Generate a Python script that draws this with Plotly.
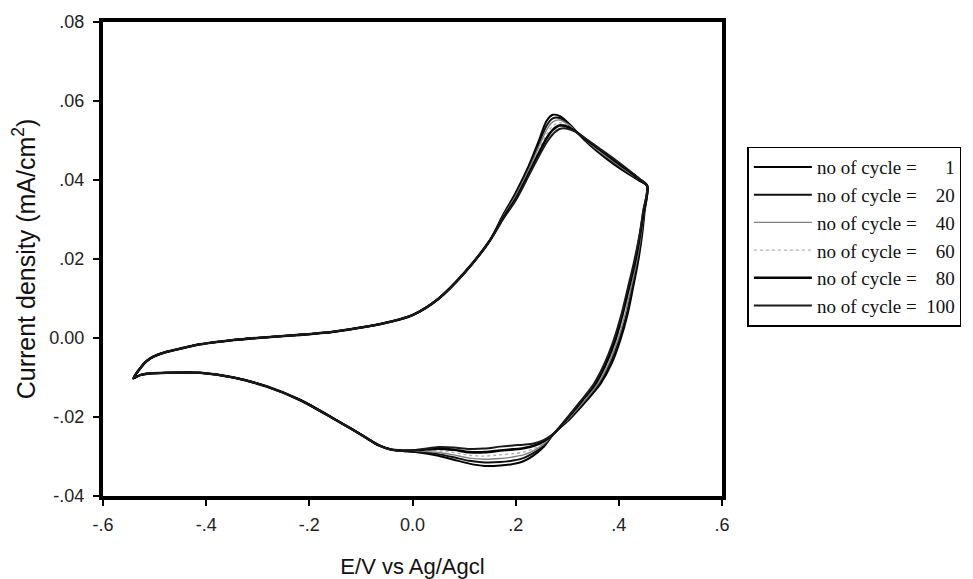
import plotly.graph_objects as go

# ---- cyclic voltammograms (E in V vs Ag/AgCl, j in mA/cm2) ----
cycles = [1, 20, 40, 60, 80, 100]

# forward (anodic) scan, identical for all cycles from the negative vertex up to ~0.15 V
E_anodic_shared = [-0.541, -0.535, -0.528, -0.520, -0.509, -0.495, -0.476, -0.460, -0.444,
                   -0.412, -0.380, -0.347, -0.282, -0.218, -0.153, -0.088, -0.043, 0.000,
                   0.050, 0.100, 0.150]
j_anodic_shared = [-0.0102, -0.0089, -0.0077, -0.0064, -0.0052, -0.0043, -0.0035, -0.0030,
                   -0.0025, -0.0016, -0.0010, -0.0005, 0.0002, 0.0008, 0.0016, 0.0029,
                   0.0041, 0.0058, 0.0099, 0.0164, 0.0247]

# anodic peak region up to the positive vertex
E_anodic_peak = [0.175, 0.200, 0.225, 0.245, 0.260, 0.272, 0.285, 0.300, 0.315, 0.335,
                 0.360, 0.390, 0.420, 0.440, 0.455]
j_peak_c1 = [0.0310, 0.0368, 0.0435, 0.0500, 0.0550, 0.0565, 0.0562, 0.0547, 0.0527, 0.0499,
             0.0470, 0.0440, 0.0414, 0.0398, 0.0385]
j_peak_c20 = [0.0308, 0.0364, 0.0430, 0.0492, 0.0538, 0.0556, 0.0557, 0.0544, 0.0526, 0.0501,
              0.0473, 0.0443, 0.0416, 0.0399, 0.0385]
j_peak_c40 = [0.0306, 0.0360, 0.0425, 0.0484, 0.0527, 0.0547, 0.0552, 0.0542, 0.0526, 0.0502,
              0.0475, 0.0446, 0.0418, 0.0400, 0.0385]
j_peak_c60 = [0.0304, 0.0356, 0.0420, 0.0476, 0.0516, 0.0537, 0.0545, 0.0539, 0.0525, 0.0503,
              0.0477, 0.0449, 0.0420, 0.0401, 0.0385]
j_peak_c80 = [0.0302, 0.0352, 0.0415, 0.0468, 0.0506, 0.0527, 0.0538, 0.0535, 0.0524, 0.0504,
              0.0480, 0.0451, 0.0422, 0.0402, 0.0385]
j_peak_c100 = [0.0300, 0.0348, 0.0410, 0.0460, 0.0495, 0.0516, 0.0529, 0.0530, 0.0523, 0.0505,
               0.0482, 0.0454, 0.0424, 0.0403, 0.0385]

# reverse scan, steep part just after the positive vertex
j_reverse_top = [0.0385, 0.0320, 0.0260, 0.0190, 0.0130, 0.0060, -0.0005, -0.0065,
                 -0.0115, -0.0158, -0.0205, -0.0242]
E_rev_c1 = [0.455, 0.450, 0.445, 0.437, 0.428, 0.417, 0.403, 0.386, 0.365, 0.338, 0.305, 0.274]
E_rev_c20 = [0.455, 0.449, 0.444, 0.435, 0.426, 0.415, 0.400, 0.383, 0.362, 0.336, 0.304, 0.274]
E_rev_c40 = [0.455, 0.449, 0.443, 0.434, 0.424, 0.412, 0.398, 0.380, 0.360, 0.334, 0.302, 0.274]
E_rev_c60 = [0.455, 0.448, 0.442, 0.432, 0.422, 0.410, 0.395, 0.378, 0.357, 0.331, 0.301, 0.274]
E_rev_c80 = [0.455, 0.448, 0.441, 0.431, 0.420, 0.407, 0.393, 0.375, 0.355, 0.329, 0.299, 0.274]
E_rev_c100 = [0.455, 0.447, 0.440, 0.429, 0.418, 0.405, 0.390, 0.372, 0.352, 0.327, 0.298, 0.274]

# reverse scan, cathodic peak region
E_cathodic_peak = [0.255, 0.235, 0.215, 0.195, 0.170, 0.140, 0.110, 0.080, 0.050, 0.020, -0.010]
j_cat_c1 = [-0.0275, -0.0297, -0.0312, -0.0319, -0.0323, -0.0324, -0.0318, -0.0308, -0.0298, -0.0291, -0.0287]
j_cat_c20 = [-0.0272, -0.0291, -0.0304, -0.0310, -0.0314, -0.0315, -0.0311, -0.0302, -0.0294, -0.0289, -0.0287]
j_cat_c40 = [-0.0268, -0.0285, -0.0296, -0.0301, -0.0305, -0.0307, -0.0304, -0.0296, -0.0290, -0.0287, -0.0286]
j_cat_c60 = [-0.0265, -0.0280, -0.0289, -0.0293, -0.0296, -0.0299, -0.0297, -0.0290, -0.0286, -0.0285, -0.0286]
j_cat_c80 = [-0.0261, -0.0273, -0.0279, -0.0282, -0.0285, -0.0289, -0.0289, -0.0283, -0.0280, -0.0283, -0.0285]
j_cat_c100 = [-0.0258, -0.0267, -0.0270, -0.0272, -0.0275, -0.0280, -0.0281, -0.0277, -0.0276, -0.0281, -0.0285]

# reverse scan back to the negative vertex, identical for all cycles
E_cathodic_shared = [-0.040, -0.065, -0.088, -0.120, -0.153, -0.218, -0.282, -0.347, -0.412,
                     -0.476, -0.510, -0.528, -0.541]
j_cathodic_shared = [-0.0283, -0.0272, -0.0254, -0.0229, -0.0204, -0.0157, -0.0123, -0.0100,
                     -0.0088, -0.0088, -0.0090, -0.0094, -0.0102]

j_peaks = [j_peak_c1, j_peak_c20, j_peak_c40, j_peak_c60, j_peak_c80, j_peak_c100]
E_revs = [E_rev_c1, E_rev_c20, E_rev_c40, E_rev_c60, E_rev_c80, E_rev_c100]
j_cats = [j_cat_c1, j_cat_c20, j_cat_c40, j_cat_c60, j_cat_c80, j_cat_c100]

# axis ticks
x_tickvals = [-0.6, -0.4, -0.2, 0.0, 0.2, 0.4, 0.6]
x_ticktext = ["-.6", "-.4", "-.2", "0.0", ".2", ".4", ".6"]
y_tickvals = [-0.04, -0.02, 0.0, 0.02, 0.04, 0.06, 0.08]
y_ticktext = ["-.04", "-.02", "0.00", ".02", ".04", ".06", ".08"]

# line style per cycle
styles = [
    dict(color="#000000", width=2.0, dash="solid"),
    dict(color="#111111", width=2.0, dash="solid"),
    dict(color="#808080", width=1.4, dash="solid"),
    dict(color="#b0b0b0", width=1.4, dash="dot"),
    dict(color="#000000", width=2.6, dash="solid"),
    dict(color="#1a1a1a", width=2.0, dash="solid"),
]


def legend_label(n):
    # pad the cycle number with figure spaces so the digits line up on the right
    pad = "\u2007" * (3 - len(str(n)))
    return "no of cycle =\u00a0\u00a0" + pad + str(n)


fig = go.Figure()
for i in range(len(cycles)):
    E = E_anodic_shared + E_anodic_peak + E_revs[i][1:] + E_cathodic_peak + E_cathodic_shared
    j = j_anodic_shared + j_peaks[i] + j_reverse_top[1:] + j_cats[i] + j_cathodic_shared
    fig.add_trace(go.Scatter(
        x=E, y=j, mode="lines",
        line=dict(shape="spline", smoothing=0.8, **styles[i]),
        name=legend_label(cycles[i]),
        legendgroup=str(cycles[i]),
    ))

sans = "Liberation Sans, Arial, sans-serif"
axis_common = dict(
    showgrid=False, zeroline=False, showline=True, linecolor="black", linewidth=4,
    mirror=True, ticks="outside", ticklen=6, tickwidth=1.5, tickcolor="black",
    tickfont=dict(family=sans, size=18, color="#222"),
)

fig.update_layout(
    width=973, height=579,
    margin=dict(l=103, r=251, t=22, b=83, autoexpand=False),
    paper_bgcolor="white", plot_bgcolor="white",
    xaxis=dict(range=[-0.6, 0.6], tickvals=x_tickvals, ticktext=x_ticktext,
               ticklabelstandoff=3,
               title=dict(text="E/V vs Ag/Agcl", standoff=26,
                          font=dict(family=sans, size=22, color="#111")),
               **axis_common),
    yaxis=dict(range=[-0.04, 0.08], tickvals=y_tickvals, ticktext=y_ticktext,
               ticklabelstandoff=5,
               title=dict(text="Current density (mA/cm<sup>2</sup>)", standoff=8,
                          font=dict(family=sans, size=25, color="#111")),
               **axis_common),
    legend=dict(
        x=1.041, xanchor="left", y=0.737, yanchor="top",
        bordercolor="black", borderwidth=1.5, bgcolor="white",
        font=dict(family="Liberation Serif, Times New Roman, serif", size=19, color="#111"),
        tracegroupgap=0, itemwidth=58,
    ),
    showlegend=True,
)

fig.write_html("out.html")
